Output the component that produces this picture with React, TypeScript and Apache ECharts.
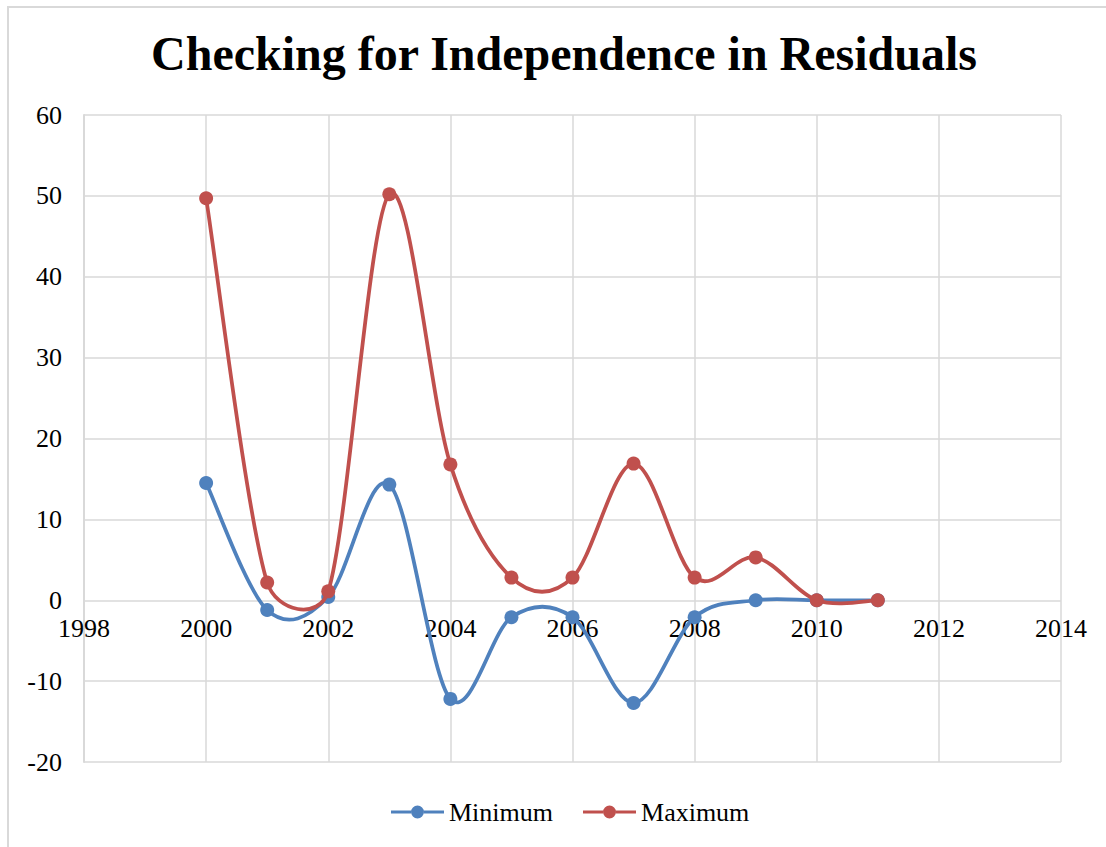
import React, { useEffect, useRef } from "react";
import * as echarts from "echarts";

// Year of each residual observation
const years = [2000, 2001, 2002, 2003, 2004, 2005, 2006, 2007, 2008, 2009, 2010, 2011];
// Minimum residual per year
const minimumValues = [14.5, -1.2, 0.4, 14.3, -12.2, -2.1, -2.1, -12.7, -2.1, 0.0, 0.0, 0.0];
// Maximum residual per year
const maximumValues = [49.7, 2.2, 1.1, 50.2, 16.8, 2.8, 2.8, 16.9, 2.8, 5.3, 0.0, 0.0];

const seriesNames = ["Minimum", "Maximum"];
const seriesColors = ["#4f81bd", "#c0504d"];
const titleText = "Checking for Independence in Residuals";

const SERIF = "'Times New Roman', 'Liberation Serif', 'DejaVu Serif', serif";
const GRID_COLOR = "#d9d9d9";
const LINE_WIDTH = 3.75;
const MARKER_RADIUS = 7;

// Legend glyph: a short thick line with a dot in the middle (53 x 14 box)
const LEGEND_ICON =
  "path://M0,5.5 L20,5.5 L20,8.5 L0,8.5 Z M33,5.5 L53,5.5 L53,8.5 L33,8.5 Z " +
  "M20,7 A6.5,6.5 0 1 0 33,7 A6.5,6.5 0 1 0 20,7 Z";

// Smoothed line: cubic Bezier per segment, tangent (next - prev) / 6,
// limited so a control point never lies further than half the segment length.
function smoothSeries(name: string, values: number[], color: string) {
  const n = values.length;
  const at = (k: number) => Math.max(0, Math.min(n - 1, k));
  return {
    type: "custom",
    name,
    data: years.map((y, i) => [y, values[i]]),
    xAxisIndex: 0,
    yAxisIndex: 0,
    itemStyle: { color },
    renderItem: (params: any, api: any) => {
      const i = params.dataIndex;
      const pt = (k: number) => api.coord([years[at(k)], values[at(k)]]) as number[];
      const p1 = pt(i);
      const children: any[] = [];
      if (i < n - 1) {
        const p0 = pt(i - 1);
        const p2 = pt(i + 1);
        const p3 = pt(i + 2);
        const dist = (a: number[], b: number[]) => Math.hypot(b[0] - a[0], b[1] - a[1]);
        const d12 = dist(p1, p2);
        const d02 = dist(p0, p2);
        const d13 = dist(p1, p3);
        const f1 = d02 === 0 ? 0 : d02 / 6 < d12 / 2 ? 1 / 6 : d12 / (2 * d02);
        const f2 = d13 === 0 ? 0 : d13 / 6 < d12 / 2 ? 1 / 6 : d12 / (2 * d13);
        children.push({
          type: "bezierCurve",
          shape: {
            x1: p1[0],
            y1: p1[1],
            cpx1: p1[0] + (p2[0] - p0[0]) * f1,
            cpy1: p1[1] + (p2[1] - p0[1]) * f1,
            cpx2: p2[0] - (p3[0] - p1[0]) * f2,
            cpy2: p2[1] - (p3[1] - p1[1]) * f2,
            x2: p2[0],
            y2: p2[1],
          },
          style: { stroke: color, lineWidth: LINE_WIDTH, fill: "none", lineCap: "round" },
        });
      }
      children.push({
        type: "circle",
        shape: { cx: p1[0], cy: p1[1], r: MARKER_RADIUS },
        style: { fill: color },
      });
      return { type: "group", children };
    },
  };
}

export default function App() {
  const ref = useRef<HTMLDivElement>(null);

  useEffect(() => {
    if (!ref.current) return;
    const chart = echarts.init(ref.current, undefined, { renderer: "svg" });

    const labelStyle = { fontFamily: SERIF, fontSize: 26, color: "#000000" };

    chart.setOption({
      animation: false,
      backgroundColor: "#ffffff",
      title: {
        text: titleText,
        left: 559,
        textAlign: "center",
        top: 24,
        textStyle: {
          fontFamily: SERIF,
          fontSize: 48,
          fontWeight: "bold",
          color: "#000000",
        },
      },
      legend: {
        data: seriesNames.map((name) => ({ name, icon: LEGEND_ICON })),
        left: 386,
        top: 794,
        itemWidth: 53,
        itemHeight: 14,
        itemGap: 30,
        textStyle: labelStyle,
      },
      grid: [
        // plotting area
        { left: 84, right: 45, top: 115, bottom: 85 },
        // year labels sit along the zero line
        { left: 84, right: 45, top: 115, bottom: 247 },
      ],
      graphic: [
        {
          type: "rect",
          shape: { x: 8, y: 7, width: 1120, height: 860 },
          style: { fill: "none", stroke: GRID_COLOR, lineWidth: 2 },
          silent: true,
          z: -1,
        },
      ],
      xAxis: [
        {
          type: "value",
          gridIndex: 0,
          min: 1998,
          max: 2014,
          interval: 2,
          axisLine: { show: false },
          axisTick: { show: false },
          axisLabel: { show: false },
          splitLine: { show: true, lineStyle: { color: GRID_COLOR, width: 1.5 } },
        },
        {
          type: "value",
          gridIndex: 1,
          min: 1998,
          max: 2014,
          interval: 2,
          axisLine: { show: false },
          axisTick: { show: false },
          splitLine: { show: false },
          axisLabel: { ...labelStyle, margin: 15, formatter: (v: number) => String(v) },
        },
      ],
      yAxis: [
        {
          type: "value",
          gridIndex: 0,
          min: -20,
          max: 60,
          interval: 10,
          axisLine: { show: true, onZero: false, lineStyle: { color: GRID_COLOR, width: 2 } },
          axisTick: { show: false },
          axisLabel: { ...labelStyle, margin: 22 },
          splitLine: { show: true, lineStyle: { color: GRID_COLOR, width: 1.5 } },
        },
        {
          type: "value",
          gridIndex: 1,
          min: 0,
          max: 1,
          show: false,
        },
      ],
      series: [
        smoothSeries(seriesNames[0], minimumValues, seriesColors[0]),
        smoothSeries(seriesNames[1], maximumValues, seriesColors[1]),
      ],
    });

    return () => chart.dispose();
  }, []);

  return (
    <div
      ref={ref}
      style={{ position: "fixed", left: 0, top: 0, width: 1106, height: 847, background: "#fff" }}
    />
  );
}
